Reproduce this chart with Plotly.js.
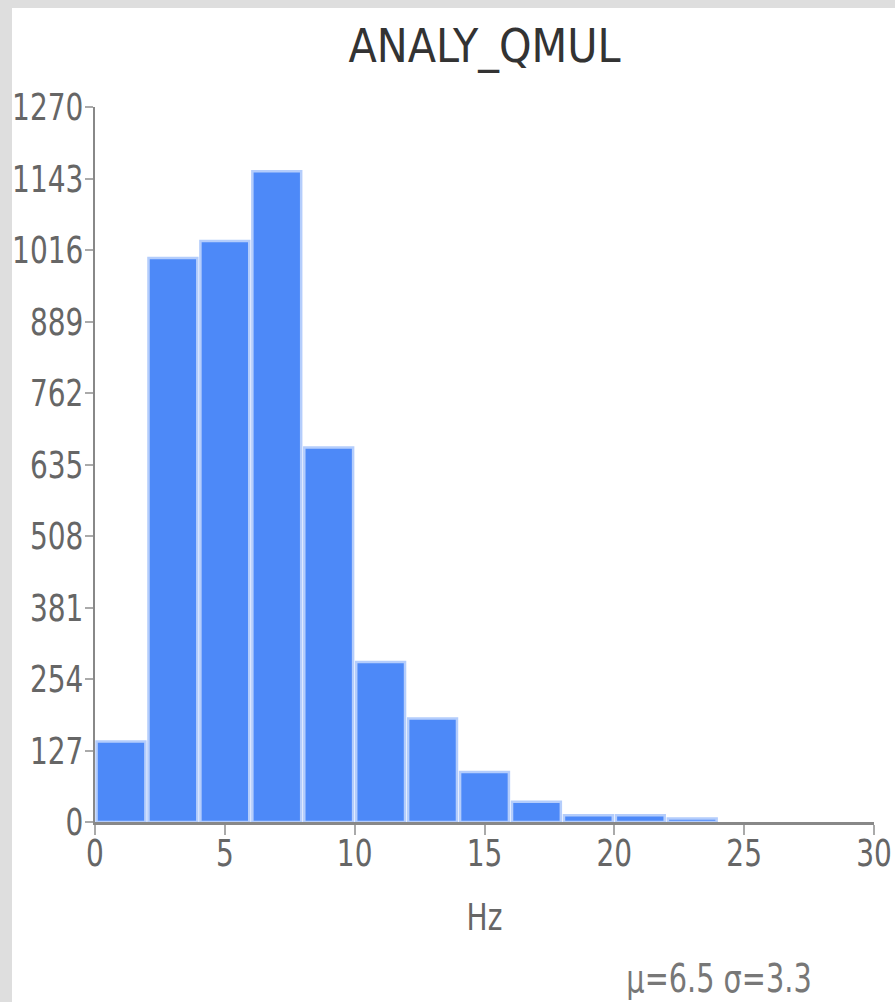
<!DOCTYPE html>
<html>
<head>
<meta charset="utf-8">
<script src="https://cdn.plot.ly/plotly-3.0.1.min.js"></script>
<style>
  html, body { margin: 0; padding: 0; background: #dedede; }
  #chart { position: absolute; left: 12px; top: 8px; width: 883px; height: 994px; background: #fff; }
</style>
</head>
<body>
<div id="chart"></div>
<script>
// Histogram bins (Hz), bin width 2
const binCenters = [1, 3, 5, 7, 9, 11, 13, 15, 17, 19, 21, 23];
const binWidths  = [2, 2, 2, 2, 2, 2, 2, 2, 2, 2, 2, 2];
const counts     = [143, 1002, 1032, 1156, 665, 284, 184, 89, 36, 12, 12, 6];

const yTickVals = [0, 127, 254, 381, 508, 635, 762, 889, 1016, 1143, 1270];
const xTickVals = [0, 5, 10, 15, 20, 25, 30];

const chartTitle = "ANALY_QMUL";
const xTitle = "Hz";
const statsText = "μ=6.5 σ=3.3";

const FONT = "'DejaVu Sans Condensed', 'Liberation Sans Narrow', sans-serif";
const NARROW = 0.82;  // horizontal squeeze for condensed-looking labels

const trace = {
  type: 'bar',
  x: binCenters,
  y: counts,
  width: binWidths.map(w => w * 0.94),
  marker: {
    color: 'rgb(77,137,248)',
    line: { color: 'rgb(180,205,252)', width: 2.5 }
  },
  hoverinfo: 'x+y'
};

const layout = {
  width: 883,
  height: 994,
  margin: { l: 83, r: 21, t: 99, b: 180 },
  paper_bgcolor: '#ffffff',
  plot_bgcolor: '#ffffff',
  showlegend: false,
  bargap: 0,
  font: { family: FONT, size: 38, color: '#666' },
  title: {
    text: chartTitle,
    font: { family: FONT, size: 46, color: '#333' },
    x: 0.5, xref: 'paper', xanchor: 'center',
    y: 0.962, yref: 'container', yanchor: 'middle'
  },
  xaxis: {
    range: [0, 30],
    tickmode: 'array',
    tickvals: xTickVals,
    ticktext: xTickVals.map(String),
    showgrid: false,
    zeroline: false,
    showline: true,
    linecolor: '#888',
    linewidth: 3,
    ticks: 'outside',
    ticklen: 10,
    tickwidth: 2,
    tickcolor: '#aaa',
    ticklabelstandoff: -15,
    ticklabeloverflow: 'allow',
    tickfont: { family: FONT, size: 38, color: '#666' },
    title: { text: xTitle, font: { family: FONT, size: 38, color: '#666' }, standoff: 30 },
    fixedrange: true
  },
  yaxis: {
    range: [0, 1270],
    tickmode: 'array',
    tickvals: yTickVals,
    ticktext: yTickVals.map(String),
    showgrid: false,
    zeroline: false,
    showline: true,
    linecolor: '#888',
    linewidth: 2,
    ticks: 'outside',
    ticklen: 8,
    tickwidth: 2,
    tickcolor: '#aaa',
    ticklabelstandoff: -6,
    ticklabeloverflow: 'allow',
    tickfont: { family: FONT, size: 38, color: '#666' },
    fixedrange: true
  },
  annotations: [{
    text: statsText,
    xref: 'paper', yref: 'paper',
    x: 0.8004, y: -0.219,
    xanchor: 'center', yanchor: 'middle',
    showarrow: false,
    font: { family: FONT, size: 39, color: '#777' }
  }]
};

function squeeze(selector, s) {
  document.querySelectorAll('#chart svg ' + selector).forEach(t => {
    const x = parseFloat(t.getAttribute('x')) || 0;
    const tr = t.getAttribute('transform') || '';
    t.setAttribute('transform', tr + ' translate(' + x + ',0) scale(' + s + ',1) translate(' + (-x) + ',0)');
  });
}

Plotly.newPlot('chart', [trace], layout, { displayModeBar: false, staticPlot: true }).then(() => {
  squeeze('.xtick text', NARROW);
  squeeze('.ytick text', NARROW);
  squeeze('.xtitle', NARROW);
  squeeze('.annotation-text', NARROW);
});
</script>
</body>
</html>
